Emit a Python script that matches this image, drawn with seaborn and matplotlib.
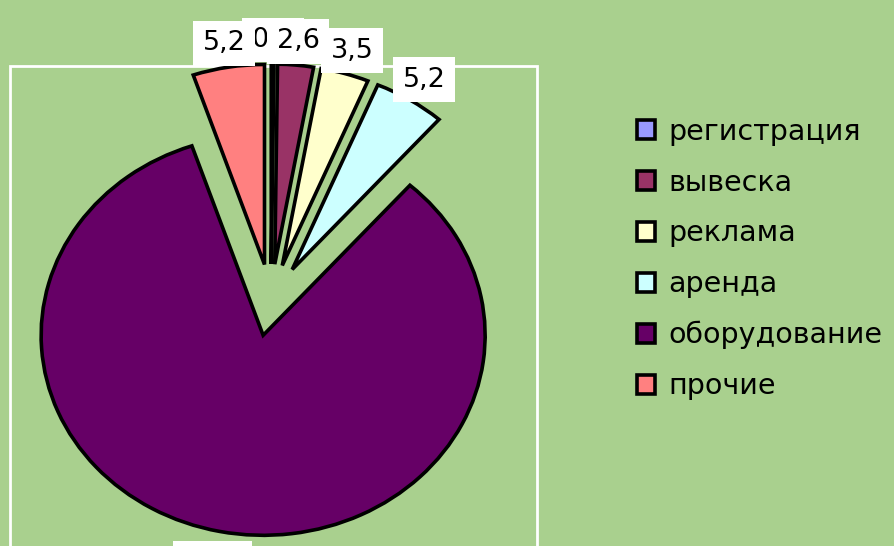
import matplotlib.pyplot as plt
import seaborn as sns
from matplotlib.patches import Rectangle

sns.set_theme(style="white")
plt.rcParams['font.family'] = ['DejaVu Sans']

categories = ['регистрация', 'вывеска', 'реклама', 'аренда', 'оборудование', 'прочие']
values = [0.2, 2.6, 3.5, 5.2, 83.3, 5.2]
value_labels = ['0,2', '2,6', '3,5', '5,2', '83,3', '5,2']
colors = ['#9999FF', '#993366', '#FFFFCC', '#CCFFFF', '#660066', '#FF8080']
bg = '#A9D08E'

fig = plt.figure(figsize=(8.95, 5.46), dpi=100)
fig.patch.set_facecolor(bg)
ax = fig.add_axes([0, 0, 1, 1])
ax.set_facecolor(bg)

wedges, texts = ax.pie(
    values, explode=[0.18] * len(values), colors=colors, labels=value_labels,
    startangle=90, counterclock=False, labeldistance=1.12,
    wedgeprops=dict(edgecolor='black', linewidth=2.6),
    textprops=dict(fontsize=19.5, color='black'),
)
for t in texts:
    t.set_ha('center')
    t.set_va('center')
    t.set_bbox(dict(facecolor='white', edgecolor='none', boxstyle='square,pad=0.35'))
    t.set_zorder(5)

# the big slice's label sits a bit further out (mostly below the picture)
big = values.index(max(values))
bx, by = texts[big].get_position()
texts[big].set_position((bx * 1.035, by * 1.035))

# stretched pie like in the original picture
ax.set_aspect('auto')
ax.set_xlim(-271 / 222, (895 - 271) / 222)
ax.set_ylim(-(546 - 300) / 200, 300 / 200)
ax.axis('off')

# white plot area border
ax.add_patch(Rectangle((-1.176, -1.5), 1.198 + 1.176, 1.17 + 1.5, fill=False,
                       edgecolor='white', linewidth=2, zorder=0))

leg = fig.legend(wedges, categories, loc='center left', bbox_to_anchor=(611 / 895, 1 - 259 / 546),
                 frameon=False, fontsize=20.5, labelcolor='black', handlelength=0.65,
                 handleheight=0.65, handletextpad=0.45, labelspacing=0.8)

fig.savefig('out.png', dpi=100, facecolor=bg)
